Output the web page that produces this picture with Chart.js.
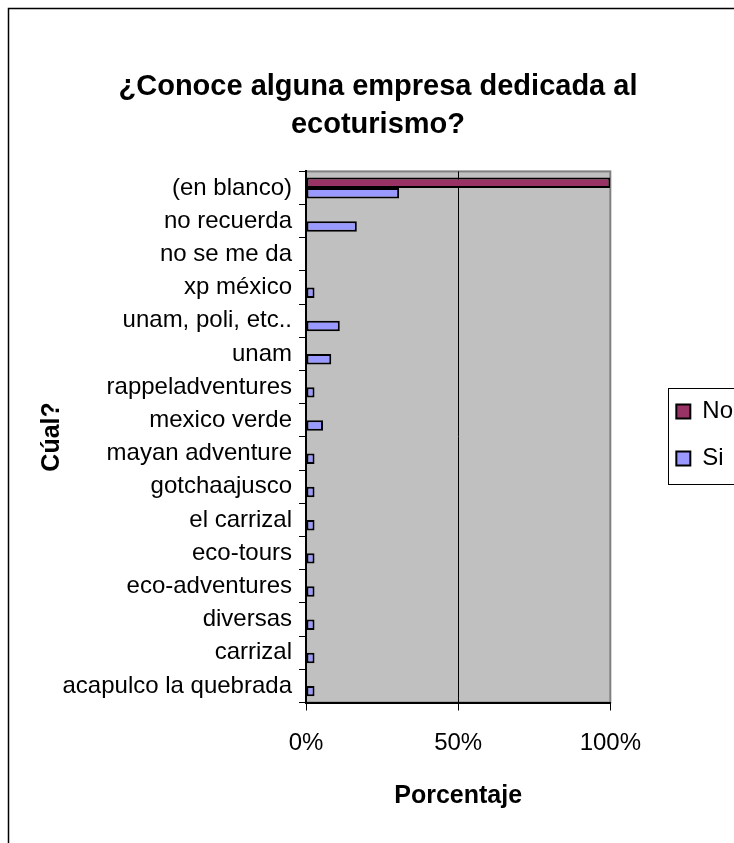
<!DOCTYPE html>
<html>
<head>
<meta charset="utf-8">
<script src="https://cdn.jsdelivr.net/npm/chart.js@4.4.1/dist/chart.umd.min.js"></script>
<style>
  html, body { margin: 0; padding: 0; background: #fff; overflow: hidden; }
  #wrap { position: absolute; left: 0; top: 0; width: 780px; height: 860px; }
</style>
</head>
<body>
<div id="wrap"><canvas id="chartEmpresas"></canvas></div>
<script>
const categorias = ['(en blanco)', 'no recuerda', 'no se me da', 'xp méxico', 'unam, poli, etc..', 'unam',
  'rappeladventures', 'mexico verde', 'mayan adventure', 'gotchaajusco', 'el carrizal', 'eco-tours',
  'eco-adventures', 'diversas', 'carrizal', 'acapulco la quebrada'];
const valoresNo = [100, 0, 0, 0, 0, 0, 0, 0, 0, 0, 0, 0, 0, 0, 0, 0];
const valoresSi = [30.6, 16.7, 0, 2.8, 11.1, 8.3, 2.8, 5.6, 2.8, 2.8, 2.8, 2.8, 2.8, 2.8, 2.8, 2.8];
const ticksX = [0, 50, 100];

const FONT = "'Liberation Sans', Arial, sans-serif";

// gray plot background + outer frame of the chart
const fondo = {
  id: 'fondo',
  beforeDraw(chart) {
    const { ctx, chartArea: a } = chart;
    ctx.save();
    ctx.strokeStyle = '#000';
    ctx.lineWidth = 1.5;
    ctx.strokeRect(8.5, 8.5, 760, 845);
    ctx.fillStyle = '#c0c0c0';
    ctx.fillRect(a.left, a.top, a.width, a.height);
    ctx.strokeStyle = '#808080';
    ctx.lineWidth = 2;
    ctx.strokeRect(a.left, a.top, a.width, a.height);
    ctx.restore();
  },
  afterDraw(chart) {
    // box around the legend
    const hb = chart.legend.legendHitBoxes;
    if (!hb || !hb.length) return;
    const { ctx } = chart;
    const last = hb[hb.length - 1];
    const x = Math.round(hb[0].left - 8) + 0.5;
    const y = Math.round(hb[0].top - 12) + 0.5;
    const b = Math.round(last.top + last.height + 13) + 0.5;
    ctx.save();
    ctx.strokeStyle = '#000';
    ctx.lineWidth = 1;
    ctx.strokeRect(x, y, 200, b - y);
    ctx.restore();
  }
};

new Chart(document.getElementById('chartEmpresas'), {
  type: 'bar',
  data: {
    labels: categorias,
    datasets: [
      { label: 'No', data: valoresNo, backgroundColor: '#993366', borderColor: '#000', borderWidth: 2,
        borderSkipped: false, categoryPercentage: 0.63, barPercentage: 1 },
      { label: 'Si', data: valoresSi, backgroundColor: '#9999ff', borderColor: '#000', borderWidth: 2,
        borderSkipped: false, categoryPercentage: 0.63, barPercentage: 1 }
    ]
  },
  options: {
    indexAxis: 'y',
    responsive: true,
    maintainAspectRatio: false,
    animation: false,
    devicePixelRatio: 1,
    layout: { padding: { top: 10, left: 13, right: 37, bottom: 0 } },
    plugins: {
      title: {
        display: true,
        text: ['¿Conoce alguna empresa dedicada al', 'ecoturismo?'],
        color: '#000',
        font: { family: FONT, size: 29, weight: 'bold', lineHeight: 1.3 },
        padding: { top: 58, bottom: 28 }
      },
      legend: {
        position: 'right',
        labels: {
          color: '#000', boxWidth: 14, boxHeight: 14, padding: 23,
          font: { family: FONT, size: 24 }
        }
      },
      tooltip: { enabled: false }
    },
    scales: {
      x: {
        min: 0, max: 100,
        afterBuildTicks: s => { s.ticks = ticksX.map(v => ({ value: v })); },
        afterFit: s => { s.height = 157.5; },
        ticks: { color: '#000', padding: 18, font: { family: FONT, size: 24 }, callback: v => v + '%' },
        grid: {
          color: c => (c.tick && c.tick.value === 50 ? '#000' : 'rgba(0,0,0,0)'),
          tickColor: '#000', tickLength: 8, lineWidth: 1
        },
        border: { color: '#000', width: 2 },
        title: { display: true, text: 'Porcentaje', color: '#000',
          font: { family: FONT, size: 25, weight: 'bold' }, padding: { bottom: 49 } }
      },
      y: {
        afterFit: s => { s.width = 293; },
        ticks: { color: '#000', padding: 7, font: { family: FONT, size: 24 } },
        grid: { drawOnChartArea: false, tickColor: '#000', tickLength: 7 },
        border: { color: '#000', width: 2 },
        title: { display: true, text: 'Cúal?', color: '#000',
          font: { family: FONT, size: 25, weight: 'bold' }, padding: { top: 24.5 } }
      },
      // empty axis on the right, keeps space between plot and legend
      hueco: {
        type: 'category', axis: 'y', position: 'right',
        afterFit: s => { s.width = 43; },
        grid: { display: false }, ticks: { display: false }, border: { display: false }
      }
    }
  },
  plugins: [fondo]
});
</script>
</body>
</html>
